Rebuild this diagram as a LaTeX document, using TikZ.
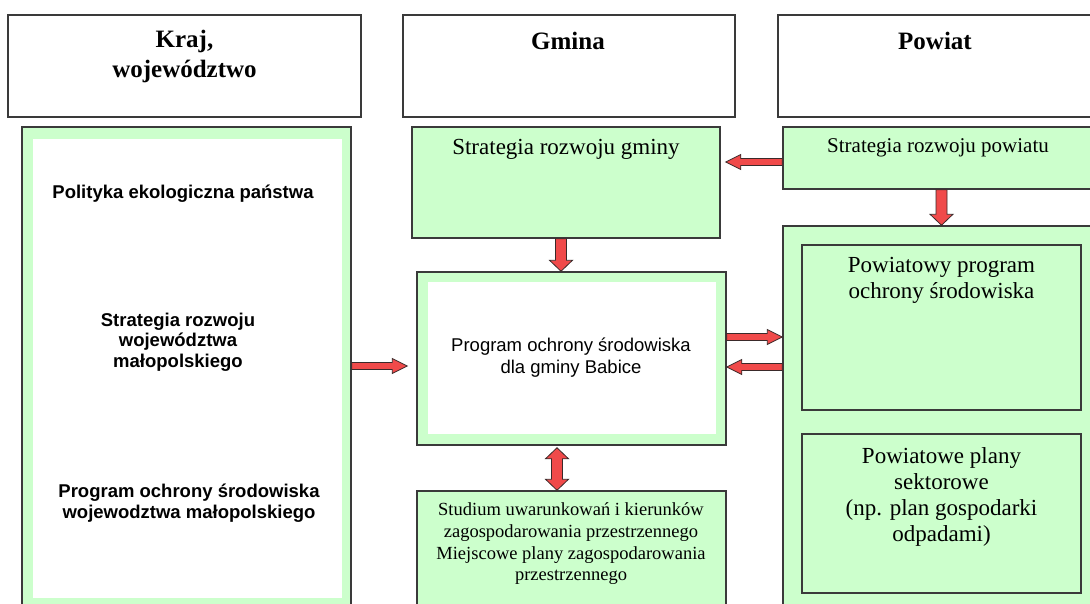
\documentclass[tikz,border=0pt]{standalone}
\usepackage{fontspec}
\setmainfont{Liberation Serif}
\setsansfont{Liberation Sans}
\usetikzlibrary{calc,fit}

\definecolor{boxgreen}{HTML}{CCFFCC}
\definecolor{framec}{HTML}{3A3A3A}
\definecolor{arrowred}{HTML}{F04A4A}
\definecolor{arrowline}{HTML}{3A2A2A}

\tikzset{
  ba shaft/.store in=\bashaft, ba head/.store in=\bahead, ba len/.store in=\balen,
  ba shaft=3.5pt, ba head=7pt, ba len=15pt,
  harrow/.style={ba shaft=3.5pt, ba head=7.5pt, ba len=15pt},
  varrow/.style={ba shaft=5.5pt, ba head=11.5pt, ba len=11pt},
  blockarrow/.style={draw=arrowline, fill=arrowred, line width=0.8pt, line join=miter,
    to path={
      ($(\tikztostart)!\bashaft!90:(\tikztotarget)$)
      -- ($($(\tikztotarget)!\balen!(\tikztostart)$)!\bashaft!-90:(\tikztostart)$)
      -- ($($(\tikztotarget)!\balen!(\tikztostart)$)!\bahead!-90:(\tikztostart)$)
      -- (\tikztotarget)
      -- ($($(\tikztotarget)!\balen!(\tikztostart)$)!\bahead!90:(\tikztostart)$)
      -- ($($(\tikztotarget)!\balen!(\tikztostart)$)!\bashaft!90:(\tikztostart)$)
      -- ($(\tikztostart)!\bashaft!-90:(\tikztotarget)$)
      -- cycle}},
  dblarrow/.style={draw=arrowline, fill=arrowred, line width=0.8pt, line join=miter,
    to path={
      (\tikztostart)
      -- ($($(\tikztostart)!\balen!(\tikztotarget)$)!\bahead!90:(\tikztotarget)$)
      -- ($($(\tikztostart)!\balen!(\tikztotarget)$)!\bashaft!90:(\tikztotarget)$)
      -- ($($(\tikztotarget)!\balen!(\tikztostart)$)!\bashaft!-90:(\tikztostart)$)
      -- ($($(\tikztotarget)!\balen!(\tikztostart)$)!\bahead!-90:(\tikztostart)$)
      -- (\tikztotarget)
      -- ($($(\tikztotarget)!\balen!(\tikztostart)$)!\bahead!90:(\tikztostart)$)
      -- ($($(\tikztotarget)!\balen!(\tikztostart)$)!\bashaft!90:(\tikztostart)$)
      -- ($($(\tikztostart)!\balen!(\tikztotarget)$)!\bashaft!-90:(\tikztotarget)$)
      -- ($($(\tikztostart)!\balen!(\tikztotarget)$)!\bahead!-90:(\tikztotarget)$)
      -- cycle}},
}

\begin{document}
\begin{tikzpicture}[x=1pt,y=-1pt,
  hdr/.style={draw=framec, line width=1.6pt, inner sep=0pt, fill=white},
  box/.style={draw=framec, line width=1.5pt, inner sep=0pt, fill=boxgreen},
  whitebox/.style={fill=white, inner sep=0pt},
  subbox/.style={draw=framec, line width=1.2pt, inner sep=0pt, fill=boxgreen},
  hdrtext/.style={inner sep=0pt, align=center, font=\bfseries\fontsize{25}{30}\selectfont},
  sanstext/.style={inner sep=0pt, align=center, font=\sffamily\bfseries\fontsize{18.5}{20.5}\selectfont},
  sansplain/.style={inner sep=0pt, align=center, font=\sffamily\fontsize{18.5}{22}\selectfont},
  serifbig/.style={inner sep=0pt, align=center, font=\fontsize{23}{26}\selectfont},
  serifmid/.style={inner sep=0pt, align=center, font=\fontsize{21}{24}\selectfont},
  serifsmall/.style={inner sep=0pt, align=center, font=\fontsize{18.5}{21.7}\selectfont},
]
\clip (0,0) rectangle (1090,603);
\fill[white] (0,0) rectangle (1090,603);

% headers
\node[hdr, fit={(8,15) (361,117)}] (hkraj) {};
\node[hdr, fit={(403,15) (735,117)}] (hgmina) {};
\node[hdr, fit={(778,15) (1100,117)}] (hpowiat) {};
\node[hdrtext] (tkraj) at (184.5,56) {Kraj,\\województwo};
\node[hdrtext] (tgmina) at (568,41) {Gmina};
\node[hdrtext] (tpowiat) at (935,41) {Powiat};

% left column
\node[box, fit={(22,127) (351,615)}] (lbox) {};
\node[whitebox, fit={(33,139) (342,598)}] (lwhite) {};
\node[sanstext] (tpol) at (183,194) {Polityka ekologiczna państwa};
\node[sanstext] (tstr) at (178,342) {Strategia rozwoju\\województwa\\małopolskiego};
\node[sanstext] (tprw) at (189,503) {Program ochrony środowiska\\wojewodztwa małopolskiego};

% gmina column
\node[box, fit={(412,127) (720,238)}] (gminy) {};
\node[serifbig] (tgminy) at (566,149) {Strategia rozwoju gminy};
\node[box, fit={(417,272) (726,445)}] (prog) {};
\node[whitebox, fit={(428,282) (716,434)}] (progwhite) {};
\node[sansplain] (tprog) at (571,358) {Program ochrony środowiska\\dla gminy Babice};
\node[box, fit={(417,491) (726,615)}] (stud) {};
\node[serifsmall] (tstud) at (571,544) {Studium uwarunkowań i kierunków\\zagospodarowania przestrzennego\\Miejscowe plany zagospodarowania\\przestrzennego};

% powiat column
\node[box, fit={(783,127) (1100,189)}] (powiatu) {};
\node[serifmid] (tpowiatu) at (938,148) {Strategia rozwoju powiatu};
\node[box, fit={(783,226) (1100,615)}] (pbig) {};
\node[subbox, fit={(802,245) (1081,410)}] (ppos) {};
\node[serifbig] (tppos) at (941.5,280) {Powiatowy program\\ochrony środowiska};
\node[subbox, fit={(802,434) (1081,593)}] (pplan) {};
\node[serifbig] (tpplan) at (941.5,497) {Powiatowe plany\\sektorowe\\(np. plan gospodarki\\odpadami)};

% arrow end points
\coordinate (a1s) at (lbox.east |- 0,366);
\coordinate (a1e) at ([xshift=-9pt]prog.west |- 0,366);
\coordinate (a2s) at ([xshift=-5pt]gminy.south);
\coordinate (a2e) at (a2s |- prog.north);
\coordinate (a3s) at (powiatu.west |- 0,162);
\coordinate (a3e) at ([xshift=5pt]gminy.east |- 0,162);
\coordinate (a4s) at (powiatu.south);
\coordinate (a4e) at (a4s |- pbig.north);
\coordinate (a5s) at (prog.east |- 0,337);
\coordinate (a5e) at (pbig.west |- 0,337);
\coordinate (a6s) at (pbig.west |- 0,367);
\coordinate (a6e) at (prog.east |- 0,367);
\coordinate (a7s) at ([xshift=-14.5pt,yshift=-2pt]prog.south);
\coordinate (a7e) at (a7s |- stud.north);

% arrows
\path[blockarrow, harrow] (a1s) to (a1e);
\path[blockarrow, varrow] (a2s) to (a2e);
\path[blockarrow, harrow] (a3s) to (a3e);
\path[blockarrow, varrow] (a4s) to (a4e);
\path[blockarrow, harrow] (a5s) to (a5e);
\path[blockarrow, harrow] (a6s) to (a6e);
\path[dblarrow, varrow] (a7s) to (a7e);
\end{tikzpicture}
\end{document}
